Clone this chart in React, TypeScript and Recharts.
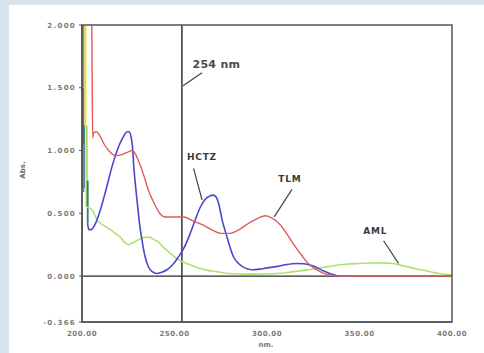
import React from 'react';
import { LineChart, Line, XAxis, YAxis, ReferenceLine, ReferenceDot } from 'recharts';

const xTicks = [200, 250, 300, 350, 400];
const yTicks = [2, 1.5, 1, 0.5, 0, -0.366];

const tlmNm = [205.3, 205.5, 205.8, 206.3, 208, 209.5, 212, 215, 218, 222, 225, 227, 229, 231, 233, 236, 239, 242, 245, 250, 255, 260, 265, 270, 275, 280, 285, 290, 295, 299, 303, 307, 311, 315, 319, 323, 327, 331, 336, 341, 370, 400];
const tlmAbs = [2.0, 1.55, 1.1, 1.14, 1.15, 1.12, 1.05, 0.99, 0.96, 0.97, 0.99, 1.0, 0.97, 0.9, 0.82, 0.68, 0.58, 0.5, 0.47, 0.47, 0.47, 0.44, 0.41, 0.37, 0.34, 0.34, 0.37, 0.42, 0.46, 0.48, 0.46, 0.41, 0.33, 0.24, 0.16, 0.09, 0.05, 0.02, 0.005, 0, 0, 0];

const hctzNm = [203, 203.7, 205, 207, 210, 213, 216, 219, 222, 224.5, 225.5, 226.5, 227.3, 228, 229.7, 231, 232.4, 234, 236, 238, 240.5, 243, 246, 249, 252, 255, 258.5, 261, 264, 266.5, 269.4, 271, 272.5, 274, 275.7, 278, 280, 282, 284.6, 288, 292, 296, 300, 305, 310, 316, 320, 325, 330, 334, 338, 345];
const hctzAbs = [0.42, 0.37, 0.37, 0.41, 0.53, 0.69, 0.86, 1.0, 1.1, 1.15, 1.15, 1.11, 1.03, 0.87, 0.61, 0.43, 0.29, 0.16, 0.07, 0.035, 0.02, 0.03, 0.05, 0.09, 0.15, 0.22, 0.34, 0.44, 0.55, 0.61, 0.64, 0.645, 0.63, 0.57, 0.45, 0.33, 0.23, 0.15, 0.10, 0.065, 0.05, 0.055, 0.065, 0.075, 0.09, 0.1, 0.098, 0.08, 0.045, 0.02, 0.003, 0];

const amlNm = [202.7, 205.4, 208, 212, 215.3, 218, 220.7, 223, 225.2, 228, 230.6, 233, 236, 239, 241.4, 244, 247.8, 251, 255, 260, 264, 268, 273, 279, 285.6, 293, 300, 307, 314.4, 320, 327, 333, 339.7, 345, 350.5, 357, 363, 368, 374, 380, 386.6, 393, 400];
const amlAbs = [0.55, 0.53, 0.45, 0.4, 0.37, 0.34, 0.31, 0.27, 0.25, 0.27, 0.29, 0.305, 0.31, 0.29, 0.27, 0.23, 0.18, 0.14, 0.11, 0.08, 0.06, 0.045, 0.035, 0.02, 0.016, 0.015, 0.016, 0.022, 0.035, 0.045, 0.06, 0.075, 0.09, 0.097, 0.1, 0.104, 0.105, 0.1, 0.08, 0.06, 0.04, 0.02, 0.01];

// short vertical saturated traces at the start of the scan
const stripeNm = [200.8, 200.8, 200.9, 201.7, 202.5, 203.1];
const stripeTop = [2.0, 1.5, 1.05, 2.0, 1.2, 0.76];
const stripeBottom = [1.5, 0.7, 0.67, 1.2, 0.55, 0.42];
const stripeColors = ['#b8862f', '#2e7c70', '#7a7ad8', '#e0da6c', '#a9d86e', '#2e7c70'];
const stripeWidths = [2.8, 2.8, 1.5, 2.5, 2.2, 1.8];

const labelTexts = ['254 nm', 'HCTZ', 'TLM', 'AML'];
const labelNm = [259.7, 256.7, 306.1, 352];
const labelAbs = [1.657, 0.924, 0.749, 0.335];
const labelSizes = [11, 9, 9, 9];

const leaderStart = [{ x: 254.6, y: 1.516 }, { x: 260.3, y: 0.858 }, { x: 313.5, y: 0.691 }, { x: 363, y: 0.281 }];
const leaderEnd = [{ x: 264.9, y: 1.62 }, { x: 264.9, y: 0.606 }, { x: 303.9, y: 0.472 }, { x: 371.1, y: 0.101 }];

const toPts = (xs: number[], ys: number[]) => xs.map((x, i) => ({ x, y: ys[i] }));
const tlmData = toPts(tlmNm, tlmAbs);
const hctzData = toPts(hctzNm, hctzAbs);
const amlData = toPts(amlNm, amlAbs);
const stripes = stripeNm.map((x, i) => ({
  data: [{ x, y: stripeTop[i] }, { x, y: stripeBottom[i] }],
  color: stripeColors[i],
  width: stripeWidths[i],
}));

const X_MIN = xTicks[0];
const X_MAX = xTicks[xTicks.length - 1];
const Y_MAX = yTicks[0];
const Y_MIN = yTicks[yTicks.length - 1];

// layout
const W = 484;
const H = 353;
const M = { top: 25, right: 32, bottom: 0, left: 0 };
const Y_AXIS_W = 82;
const X_AXIS_H = 31;
const PLOT = {
  x: M.left + Y_AXIS_W,
  y: M.top,
  w: W - M.left - M.right - Y_AXIS_W,
  h: H - M.top - M.bottom - X_AXIS_H,
};

const FONT = 'DejaVu Sans, Verdana, sans-serif';
const AXIS = '#555';

const YTick = (p: any) => (
  <text x={p.x} y={p.y} dy={2.6} textAnchor="end" fontFamily={FONT} fontSize={7} fontWeight="bold" fill="#7a7a7a" letterSpacing={1.3}>
    {Number(p.payload.value).toFixed(3)}
  </text>
);
const XTick = (p: any) => (
  <text x={p.x} y={p.y} dy={14} textAnchor="middle" fontFamily={FONT} fontSize={7} fontWeight="bold" fill="#7a7a7a" letterSpacing={0.5}>
    {Number(p.payload.value).toFixed(2)}
  </text>
);

export default function App() {
  return (
    <div style={{ position: 'absolute', left: 0, top: 0, width: W, height: H, background: '#d8e4ed', overflow: 'hidden' }}>
      <div style={{ position: 'absolute', left: 9, top: 5, width: W - 9, height: H - 5, background: '#ffffff' }} />
      <div style={{ position: 'absolute', left: 0, top: 0 }}>
        <LineChart width={W} height={H} margin={M}>
          <XAxis xAxisId="main" dataKey="x" type="number" domain={[X_MIN, X_MAX]} ticks={xTicks} allowDataOverflow
            orientation="bottom" height={X_AXIS_H} tickLine={false} tickSize={0} tickMargin={0}
            axisLine={{ stroke: AXIS, strokeWidth: 1.5 }} tick={<XTick />} />
          <YAxis yAxisId="main" type="number" domain={[Y_MIN, Y_MAX]} ticks={yTicks} allowDataOverflow
            width={Y_AXIS_W} tickSize={3} tickMargin={3} tickLine={{ stroke: AXIS }}
            axisLine={{ stroke: AXIS, strokeWidth: 1.5 }} tick={<YTick />} />

          <ReferenceLine xAxisId="main" yAxisId="main" y={0} stroke="#2a2a2a" strokeWidth={1.3} />
          <ReferenceLine xAxisId="main" yAxisId="main" x={254} stroke="#333" strokeWidth={1.5} />

          {stripes.map((s, i) => (
            <Line key={'s' + i} xAxisId="main" yAxisId="main" data={s.data} dataKey="y" type="linear"
              stroke={s.color} strokeWidth={s.width} dot={false} isAnimationActive={false} />
          ))}
          <Line xAxisId="main" yAxisId="main" data={amlData} dataKey="y" type="monotone" stroke="#b2e070" strokeWidth={1.6} dot={false} isAnimationActive={false} />
          <Line xAxisId="main" yAxisId="main" data={hctzData} dataKey="y" type="monotone" stroke="#4848d0" strokeWidth={1.6} dot={false} isAnimationActive={false} />
          <Line xAxisId="main" yAxisId="main" data={tlmData} dataKey="y" type="monotone" stroke="#e05a5a" strokeWidth={1.4} dot={false} isAnimationActive={false} />

          {leaderStart.map((s, i) => (
            <ReferenceLine key={'l' + i} xAxisId="main" yAxisId="main" segment={[s, leaderEnd[i]]} stroke="#444" strokeWidth={1.2} />
          ))}
          {labelTexts.map((t, i) => (
            <ReferenceDot key={'t' + i} xAxisId="main" yAxisId="main" x={labelNm[i]} y={labelAbs[i]} r={0}
              shape={(p: any) => (
                <text x={p.cx} y={p.cy} fontFamily={FONT} fontSize={labelSizes[i]} fontWeight="bold"
                  fill={i === 0 ? '#4a4a4a' : '#3a3a3a'} letterSpacing={i === 0 ? 0.3 : 0.8}>{t}</text>
              )} />
          ))}
        </LineChart>
      </div>
      <svg width={W} height={H} style={{ position: 'absolute', left: 0, top: 0, pointerEvents: 'none' }}>
        <rect x={PLOT.x} y={PLOT.y} width={PLOT.w} height={PLOT.h} fill="none" stroke={AXIS} strokeWidth={1.5} />
        <text x={0} y={0} transform="translate(25,170) rotate(-90)" textAnchor="middle" fontFamily={FONT} fontSize={7} fontWeight="bold" fill="#6a6a6a">Abs.</text>
        <text x={266} y={347} textAnchor="middle" fontFamily={FONT} fontSize={7} fontWeight="bold" fill="#7a7a7a">nm.</text>
      </svg>
    </div>
  );
}
